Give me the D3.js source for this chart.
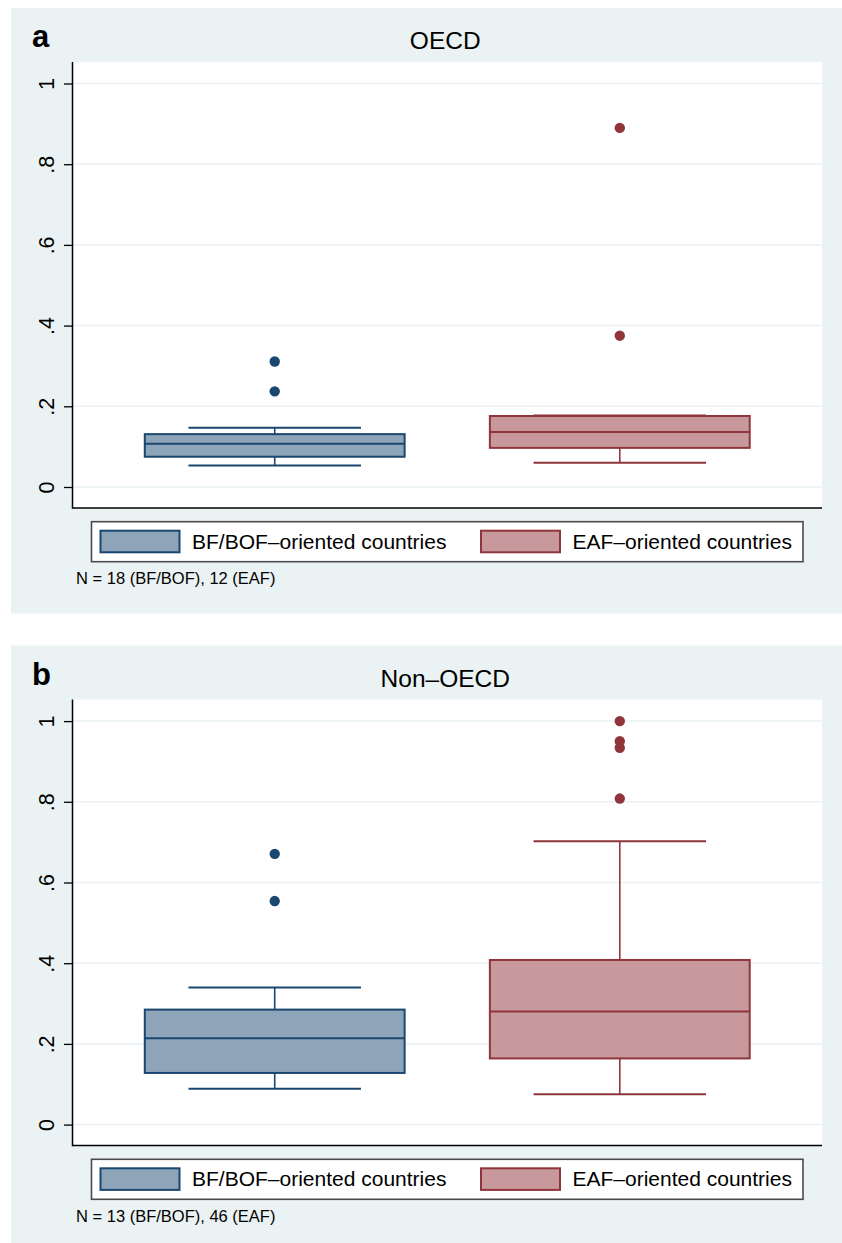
<!DOCTYPE html>
<html>
<head>
<meta charset="utf-8">
<script src="https://cdn.jsdelivr.net/npm/d3@7"></script>
<style>
    body { margin: 0; background: #fff; }
    svg { display: block; font-family: "Liberation Sans", Arial, Helvetica, sans-serif; }
</style>
</head>
<body>
<svg id="chart" width="842" height="1243"></svg>
<script>
// categories and tick labels
var groups = ['BF/BOF–oriented countries', 'EAF–oriented countries'];
var yTicks = [0, 0.2, 0.4, 0.6, 0.8, 1];
var yTickLabels = ['0', '.2', '.4', '.6', '.8', '1'];

// box stats: lower whisker, q1, median, q3, upper whisker
var oecdBF = [0.053, 0.075, 0.107, 0.131, 0.147];
var oecdEAF = [0.060, 0.097, 0.136, 0.176, 0.177];
var oecdBFOut = [0.311, 0.237];
var oecdEAFOut = [0.890, 0.375];

var nonBF = [0.089, 0.128, 0.214, 0.285, 0.340];
var nonEAF = [0.075, 0.164, 0.280, 0.408, 0.702];
var nonBFOut = [0.671, 0.554];
var nonEAFOut = [1.000, 0.950, 0.934, 0.808];

var colors = ['#1a476f', '#90353b'];
var fills = ['#8ea4b8', '#c8999c'];

function drawPanel(top, letter, title, boxes, outliers, note) {
    var svg = d3.select('#chart');
    var g = svg.append('g').attr('transform', 'translate(0,' + top + ')');

    // visual properties
    var plotLeft = 72.5, plotRight = 822, plotTop = 54, plotBottom = 500;

    g.append('rect')
        .attr('x', 11).attr('y', 0)
        .attr('width', 842 - 11).attr('height', 605.5)
        .attr('fill', '#eaf2f3');
    g.append('rect')
        .attr('x', plotLeft).attr('y', plotTop)
        .attr('width', plotRight - plotLeft).attr('height', plotBottom - plotTop)
        .attr('fill', '#ffffff');

    var y = d3.scaleLinear().domain([0, 1]).range([479, 75.5]);
    var x = d3.scaleBand()
        .domain(groups)
        .range([plotLeft, plotRight])
        .paddingInner(0)
        .paddingOuter(0.086);
    var boxW = x.bandwidth() * 0.753;
    var capW = x.bandwidth() * 0.5;

    // grid
    g.selectAll('line.grid')
        .data(yTicks).enter()
        .append('line')
            .attr('class', 'grid')
            .attr('x1', plotLeft).attr('x2', plotRight)
            .attr('y1', d => y(d)).attr('y2', d => y(d))
            .attr('stroke', '#eaf2f3')
            .attr('stroke-width', 1.5);

    // y axis
    var axis = d3.axisLeft(y)
        .tickValues(yTicks)
        .tickSize(8.5)
        .tickPadding(0)
        .tickFormat((d, i) => yTickLabels[i]);
    var ax = g.append('g')
        .attr('transform', 'translate(' + plotLeft + ',0)')
        .call(axis);
    ax.select('.domain').remove();
    ax.selectAll('.tick line').attr('stroke', '#000').attr('stroke-width', 1.3);
    ax.selectAll('.tick text')
        .attr('x', null).attr('dy', null)
        .attr('transform', 'translate(-18.3,0) rotate(-90)')
        .attr('text-anchor', 'middle')
        .attr('fill', '#000')
        .style('font-size', '21.5px')
        .style('font-family', '"Liberation Sans", Arial, sans-serif');

    g.append('line')
        .attr('x1', plotLeft).attr('x2', plotLeft)
        .attr('y1', plotTop).attr('y2', plotBottom + 0.7)
        .attr('stroke', '#000').attr('stroke-width', 1.5);
    g.append('line')
        .attr('x1', plotLeft).attr('x2', plotRight)
        .attr('y1', plotBottom).attr('y2', plotBottom)
        .attr('stroke', '#000').attr('stroke-width', 1.5);

    // boxes
    var bx = g.selectAll('g.box')
        .data(groups).enter()
        .append('g')
        .attr('class', 'box')
        .attr('transform', d => 'translate(' + (x(d) + x.bandwidth() / 2) + ',0)');
    bx.each(function(d, i) {
        var s = boxes[i];
        var b = d3.select(this);
        // whiskers
        b.append('line')
            .attr('x1', 0).attr('x2', 0)
            .attr('y1', y(s[0])).attr('y2', y(s[1]))
            .attr('stroke', colors[i]).attr('stroke-width', 1.6);
        b.append('line')
            .attr('x1', 0).attr('x2', 0)
            .attr('y1', y(s[3])).attr('y2', y(s[4]))
            .attr('stroke', colors[i]).attr('stroke-width', 1.6);
        b.selectAll('line.cap')
            .data([s[0], s[4]]).enter()
            .append('line')
                .attr('class', 'cap')
                .attr('x1', -capW / 2).attr('x2', capW / 2)
                .attr('y1', v => y(v)).attr('y2', v => y(v))
                .attr('stroke', colors[i]).attr('stroke-width', 2);
        b.append('rect')
            .attr('x', -boxW / 2).attr('width', boxW)
            .attr('y', y(s[3])).attr('height', y(s[1]) - y(s[3]))
            .attr('fill', fills[i])
            .attr('stroke', colors[i]).attr('stroke-width', 2);
        b.append('line')
            .attr('x1', -boxW / 2).attr('x2', boxW / 2)
            .attr('y1', y(s[2])).attr('y2', y(s[2]))
            .attr('stroke', colors[i]).attr('stroke-width', 2);
        b.selectAll('circle')
            .data(outliers[i]).enter()
            .append('circle')
                .attr('cx', 0).attr('cy', v => y(v))
                .attr('r', 5.2)
                .attr('fill', colors[i]);
    });

    // title and panel letter
    g.append('text')
        .attr('x', (plotLeft + plotRight) / 2 - 2).attr('y', 41)
        .attr('text-anchor', 'middle')
        .style('font-size', '24.5px')
        .text(title);
    g.append('text')
        .attr('x', 32).attr('y', 39)
        .style('font-size', '31px')
        .style('font-weight', 'bold')
        .text(letter);

    // legend
    g.append('rect')
        .attr('x', 91.5).attr('y', 513.7)
        .attr('width', 803 - 91.5).attr('height', 40)
        .attr('fill', '#fff')
        .attr('stroke', '#4a4a4a').attr('stroke-width', 1.6);
    var legX = [100.5, 481];
    var lg = g.selectAll('g.leg')
        .data(groups).enter()
        .append('g')
        .attr('class', 'leg')
        .attr('transform', (d, i) => 'translate(' + legX[i] + ',0)');
    lg.append('rect')
        .attr('x', 0).attr('y', 522.7)
        .attr('width', 79).attr('height', 21.6)
        .attr('fill', (d, i) => fills[i])
        .attr('stroke', (d, i) => colors[i]).attr('stroke-width', 2);
    lg.append('text')
        .attr('x', 91.5).attr('y', 540.5)
        .style('font-size', '21px')
        .text(d => d);

    // note
    g.append('text')
        .attr('x', 76).attr('y', 576)
        .style('font-size', '16.5px')
        .text(note);
}

drawPanel(8, 'a', 'OECD', [oecdBF, oecdEAF], [oecdBFOut, oecdEAFOut], 'N = 18 (BF/BOF), 12 (EAF)');
drawPanel(645.6, 'b', 'Non–OECD', [nonBF, nonEAF], [nonBFOut, nonEAFOut], 'N = 13 (BF/BOF), 46 (EAF)');
</script>
</body>
</html>
